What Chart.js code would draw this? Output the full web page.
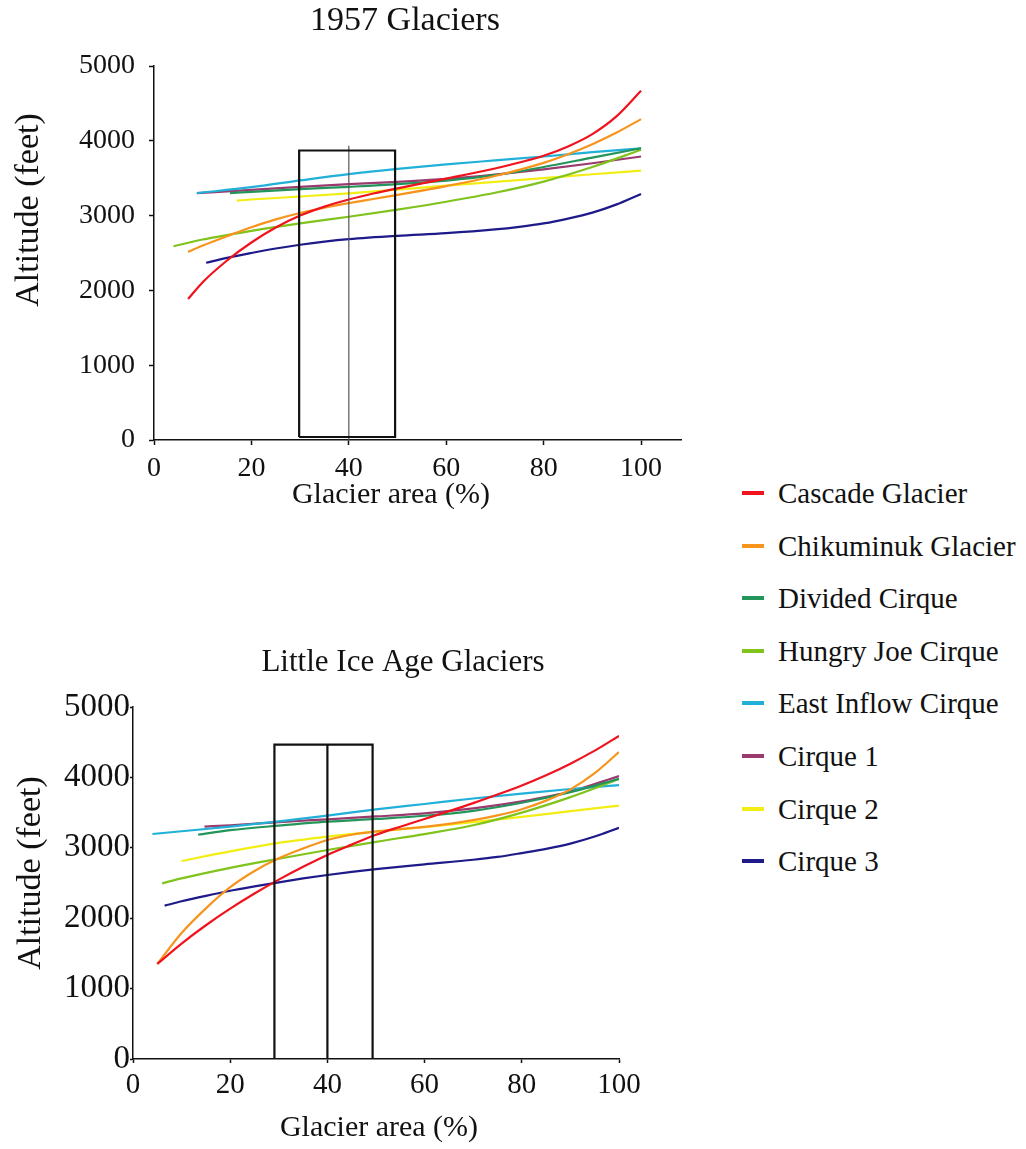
<!DOCTYPE html>
<html>
<head>
<meta charset="utf-8">
<script src="https://cdn.jsdelivr.net/npm/chart.js@4.4.1/dist/chart.umd.min.js"></script>
<style>
  body { margin: 0; background: #fff; width: 1026px; height: 1149px; position: relative; overflow: hidden;
         font-family: "Liberation Serif", "Times New Roman", serif; }
  canvas { position: absolute; left: 0; }
  #chart1957 { top: 0; }
  #chartLIA { top: 560px; }
  #legend { position: absolute; left: 742px; top: 0; }
  .item { position: absolute; left: 0; white-space: nowrap; height: 30px; line-height: 30px; font-size: 29px; color: #111; }
  .swatch { position: absolute; left: 0; top: 13px; width: 22px; height: 4px; }
  .name { position: absolute; left: 36px; top: 0; }
</style>
</head>
<body>
<canvas id="chart1957" width="700" height="520"></canvas>
<canvas id="chartLIA" width="700" height="589"></canvas>
<div id="legend"></div>
<script>
const glacierNames = ['Cascade Glacier', 'Chikuminuk Glacier', 'Divided Cirque', 'Hungry Joe Cirque',
                      'East Inflow Cirque', 'Cirque 1', 'Cirque 2', 'Cirque 3'];
const glacierColors = ['#f0131e', '#f7941d', '#23955a', '#80c31c', '#20b0d8', '#9a3a6e', '#f2ee14', '#1f1a8a'];

// 1957 glaciers: [area %, altitude ft]
const cascade1957    = [[7,1885],[10,2110],[15,2400],[20,2640],[25,2840],[30,3000],[35,3120],[40,3215],[45,3295],[50,3365],
                        [60,3495],[70,3630],[75,3710],[80,3800],[85,3925],[90,4090],[95,4330],[100,4670]];
const chikuminuk1957 = [[7,2515],[10,2600],[15,2725],[20,2845],[25,2950],[30,3035],[35,3105],[40,3166],[45,3222],[50,3278],
                        [60,3395],[70,3530],[80,3705],[85,3820],[90,3955],[95,4110],[100,4290]];
const divided1957    = [[15.6,3300],[20,3318],[30,3355],[40,3385],[50,3420],[60,3468],[70,3540],[80,3650],[90,3775],[100,3900]];
const hungryJoe1957  = [[4,2590],[10,2680],[20,2795],[30,2895],[40,2985],[50,3080],[60,3185],[70,3305],[80,3455],[90,3650],[100,3880]];
const eastInflow1957 = [[8.8,3300],[20,3380],[30,3470],[40,3555],[50,3625],[60,3685],[70,3738],[80,3790],[90,3848],[100,3900]];
const cirque1_1957   = [[8.8,3300],[20,3345],[30,3385],[40,3420],[50,3452],[60,3490],[70,3548],[80,3618],[90,3700],[100,3790]];
const cirque2_1957   = [[17,3200],[20,3215],[30,3255],[40,3298],[50,3348],[60,3400],[70,3450],[80,3500],[90,3553],[100,3600]];
const cirque3_1957   = [[10.7,2370],[15,2435],[20,2500],[25,2560],[30,2610],[35,2652],[40,2685],[50,2730],[60,2765],
                        [70,2815],[75,2850],[80,2895],[85,2960],[90,3040],[95,3150],[100,3290]];

// Little Ice Age glaciers
const cascadeLIA    = [[5,1350],[10,1640],[15,1900],[20,2135],[25,2350],[30,2548],[35,2731],[40,2899],[45,3045],[50,3185],
                       [55,3300],[60,3410],[65,3520],[70,3635],[80,3885],[85,4030],[90,4195],[95,4380],[100,4590]];
const chikuminukLIA = [[5,1350],[10,1790],[15,2140],[20,2440],[25,2670],[30,2850],[35,2990],[40,3111],[45,3185],
                       [50,3232],[55,3265],[60,3298],[65,3340],[70,3392],[75,3460],[80,3548],[85,3670],[90,3830],[95,4060],[100,4360]];
const dividedLIA    = [[13.4,3185],[20,3250],[30,3315],[40,3371],[50,3410],[60,3455],[70,3525],[80,3640],[90,3790],[100,3980]];
const hungryJoeLIA  = [[6,2495],[10,2565],[20,2715],[30,2845],[40,2969],[50,3085],[60,3195],[70,3320],[80,3500],[90,3720],[100,3975]];
const eastInflowLIA = [[4,3196],[10,3235],[20,3300],[30,3375],[40,3458],[50,3545],[60,3622],[70,3700],[80,3770],[90,3835],[100,3890]];
const cirque1_LIA   = [[14.7,3300],[20,3320],[30,3365],[40,3405],[50,3445],[60,3490],[70,3560],[80,3660],[90,3800],[100,4020]];
const cirque2_LIA   = [[10,2812],[20,2950],[30,3070],[40,3158],[50,3230],[60,3295],[70,3365],[80,3440],[90,3520],[100,3600]];
const cirque3_LIA   = [[6.5,2178],[10,2240],[15,2318],[20,2390],[25,2452],[30,2510],[35,2565],[40,2614],[45,2658],[50,2698],
                       [60,2765],[70,2830],[75,2870],[80,2925],[85,2985],[90,3060],[95,3160],[100,3285]];

// 30-50% window and its 40% divider
const frame1957   = [[29.8,40],[29.8,3870],[49.5,3870],[49.5,40],[29.8,40]];
const midline1957 = [[40,0],[40,3935]];
const frameLIA    = [[29.1,0],[29.1,4465],[49.3,4465],[49.3,0],[29.1,0]];
const midlineLIA  = [[40,0],[40,4465]];

const altitudeTicks = [0, 1000, 2000, 3000, 4000, 5000];
const areaTicks = [0, 20, 40, 60, 80, 100];

const serif = '"Liberation Serif", "Times New Roman", serif';
const toXY = pts => pts.map(([x, y]) => ({ x, y }));

// titles drawn at fixed spots around the plot
const titlesPlugin = {
  id: 'titles',
  afterDraw(chart, args, o) {
    const ctx = chart.ctx;
    ctx.save();
    ctx.fillStyle = '#111';
    ctx.textAlign = 'center';
    ctx.textBaseline = 'middle';
    ctx.font = o.mainSize + 'px ' + serif;
    ctx.fillText(o.main, o.mainAt[0], o.mainAt[1]);
    ctx.font = o.xSize + 'px ' + serif;
    ctx.fillText(o.x, o.xAt[0], o.xAt[1]);
    ctx.translate(o.yAt[0], o.yAt[1]);
    ctx.rotate(-Math.PI / 2);
    ctx.font = o.ySize + 'px ' + serif;
    ctx.fillText(o.y, 0, 0);
    ctx.restore();
  }
};

function makeChart(id, series, frame, midline, midColor, midWidth, s) {
  const datasets = [
    { data: toXY(frame), borderColor: '#111', borderWidth: 2.2, tension: 0 },
    { data: toXY(midline), borderColor: midColor, borderWidth: midWidth, tension: 0 }
  ];
  series.forEach((pts, i) => datasets.push({
    label: glacierNames[i],
    data: toXY(pts),
    borderColor: glacierColors[i],
    borderWidth: 2.2,
    cubicInterpolationMode: 'monotone'
  }));

  return new Chart(document.getElementById(id), {
    type: 'line',
    data: { datasets },
    plugins: [titlesPlugin],
    options: {
      responsive: false,
      animation: false,
      devicePixelRatio: 1,
      layout: { padding: { top: s.top, right: s.right, left: 0, bottom: 0 } },
      elements: { point: { radius: 0, hoverRadius: 0 }, line: { fill: false } },
      plugins: {
        legend: { display: false },
        tooltip: { enabled: false },
        titles: s.titles
      },
      scales: {
        x: {
          type: 'linear',
          min: 0,
          max: s.xMax,
          afterFit: sc => { sc.height = s.xHeight; },
          afterBuildTicks: sc => { sc.ticks = areaTicks.map(v => ({ value: v })); },
          border: { display: true, color: '#111', width: 1.5 },
          grid: { drawOnChartArea: false, drawTicks: true, tickLength: s.xTickLen, tickColor: '#111', tickWidth: 1.5 },
          ticks: { color: '#111', padding: s.xPad, maxRotation: 0, font: { family: serif, size: s.xFont },
                   callback: v => String(v) }
        },
        y: {
          min: 0,
          max: 5000,
          afterFit: sc => { sc.width = s.yWidth; },
          afterBuildTicks: sc => { sc.ticks = altitudeTicks.map(v => ({ value: v })); },
          border: { display: true, color: '#111', width: 1.5 },
          grid: { drawOnChartArea: false, drawTicks: true, tickLength: s.yTickLen, tickColor: '#111', tickWidth: 1.5 },
          ticks: { color: '#111', padding: s.yPad, font: { family: serif, size: s.yFont },
                   callback: v => String(v) }
        }
      }
    }
  });
}

makeChart('chart1957',
  [cascade1957, chikuminuk1957, divided1957, hungryJoe1957, eastInflow1957, cirque1_1957, cirque2_1957, cirque3_1957],
  frame1957, midline1957, '#555', 1.2,
  {
    top: 66, right: 19, xMax: 108.2, xHeight: 80, yWidth: 154,
    xTickLen: 5, xPad: 7, xFont: 28, yTickLen: 5, yPad: 14, yFont: 28,
    titles: { main: '1957 Glaciers', mainAt: [405, 21], mainSize: 34,
              x: 'Glacier area (%)', xAt: [391, 495], xSize: 30,
              y: 'Altitude (feet)', yAt: [29, 210], ySize: 34 }
  });

makeChart('chartLIA',
  [cascadeLIA, chikuminukLIA, dividedLIA, hungryJoeLIA, eastInflowLIA, cirque1_LIA, cirque2_LIA, cirque3_LIA],
  frameLIA, midlineLIA, '#111', 2.2,
  {
    top: 147, right: 81, xMax: 100, xHeight: 90, yWidth: 133,
    xTickLen: 4, xPad: 5, xFont: 29, yTickLen: 3, yPad: 0, yFont: 33,
    titles: { main: 'Little Ice Age Glaciers', mainAt: [403, 103], mainSize: 31,
              x: 'Glacier area (%)', xAt: [379, 568], xSize: 30,
              y: 'Altitude (feet)', yAt: [31, 313], ySize: 34 }
  });

// legend shared by both panels
const legend = document.getElementById('legend');
glacierNames.forEach((name, i) => {
  const item = document.createElement('div');
  item.className = 'item';
  item.style.top = (478 + 52.6 * i) + 'px';
  const sw = document.createElement('span');
  sw.className = 'swatch';
  sw.style.background = glacierColors[i];
  const label = document.createElement('span');
  label.className = 'name';
  label.textContent = name;
  item.appendChild(sw);
  item.appendChild(label);
  legend.appendChild(item);
});
</script>
</body>
</html>
